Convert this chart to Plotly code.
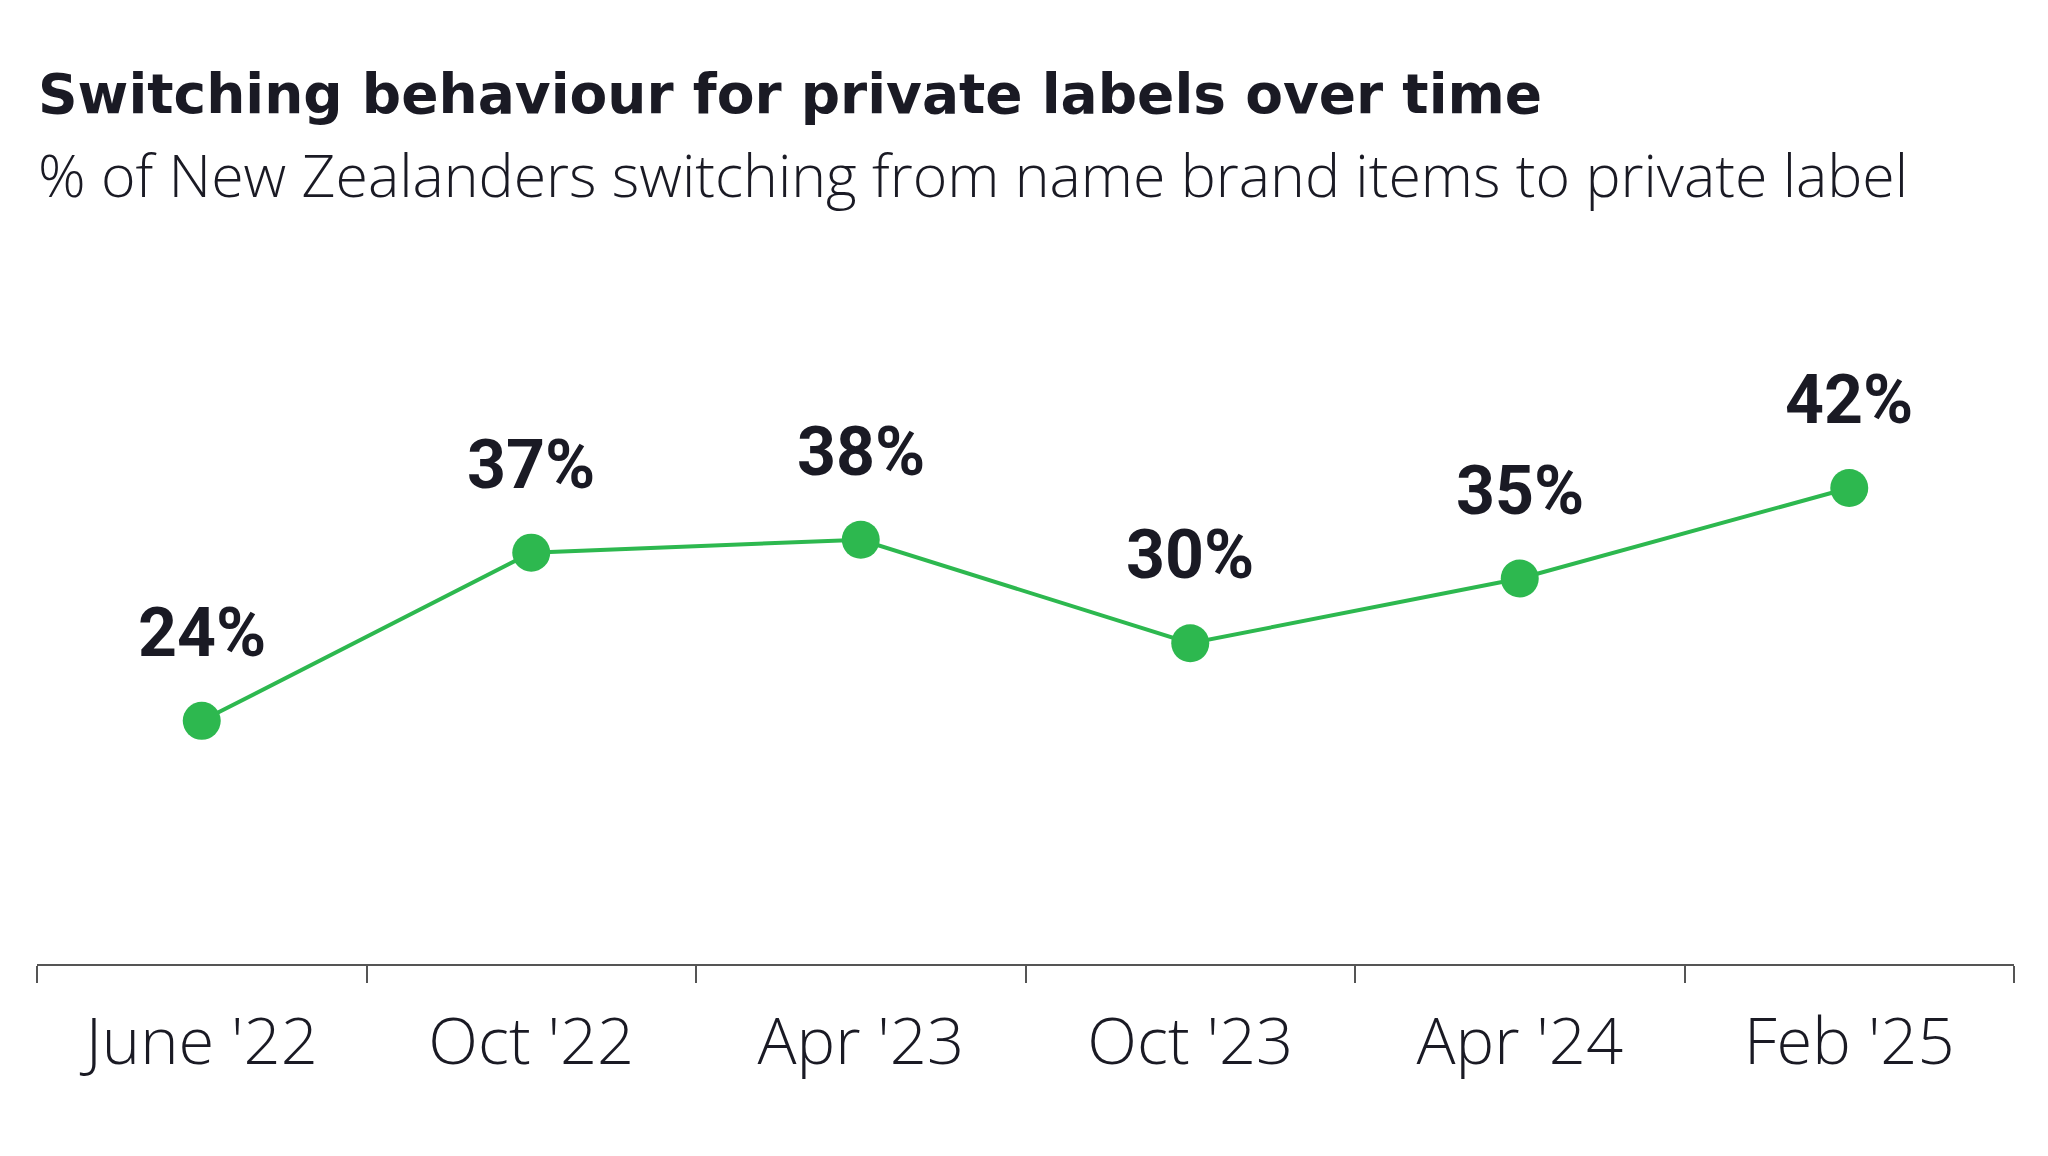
import plotly.graph_objects as go

categories = ["June '22", "Oct '22", "Apr '23", "Oct '23", "Apr '24", "Feb '25"]
values = [24, 37, 38, 30, 35, 42]
labels = ["24%", "37%", "38%", "30%", "35%", "42%"]

TEXT = "#1a1a24"
GREEN = "#2db84f"

fig = go.Figure()
fig.add_trace(go.Scatter(
    x=categories, y=values, mode="lines+markers",
    line=dict(color=GREEN, width=4),
    marker=dict(color=GREEN, size=38),
    hoverinfo="skip", showlegend=False,
))

for c, v, t in zip(categories, values, labels):
    fig.add_annotation(x=c, y=v, text=t, showarrow=False, yanchor="middle",
                       yshift=88, font=dict(family="Roboto", size=68, color=TEXT, weight="bold"))

fig.add_annotation(xref="paper", yref="paper", x=0, y=1.2185, xanchor="left", yanchor="middle",
                   xshift=-1, text="Switching behaviour for private labels over time", showarrow=False,
                   font=dict(family="DejaVu Sans", size=55, color=TEXT, weight="bold"))
fig.add_annotation(xref="paper", yref="paper", x=0, y=1.107, xanchor="left", yanchor="middle",
                   xshift=-1, text="% of New Zealanders switching from name brand items to private label",
                   showarrow=False,
                   font=dict(family="Open Sans", size=59, color=TEXT, weight=300))

fig.update_layout(
    width=2048, height=1156,
    margin=dict(l=29, r=42, t=242, b=200),
    paper_bgcolor="white", plot_bgcolor="white",
    font=dict(family="Open Sans", color=TEXT),
    xaxis=dict(type="category", range=[-0.5, 5.5], tickson="boundaries",
               ticks="outside", ticklen=17, tickwidth=1.5, tickcolor="#555",
               showline=True, linecolor="#555", linewidth=1.5, showgrid=False,
               zeroline=False, ticklabelstandoff=20,
               tickfont=dict(family="Open Sans", size=65, color=TEXT, weight=300)),
    yaxis=dict(range=[5.2, 60.4], visible=False, fixedrange=True),
)

fig.write_html("out.html")
